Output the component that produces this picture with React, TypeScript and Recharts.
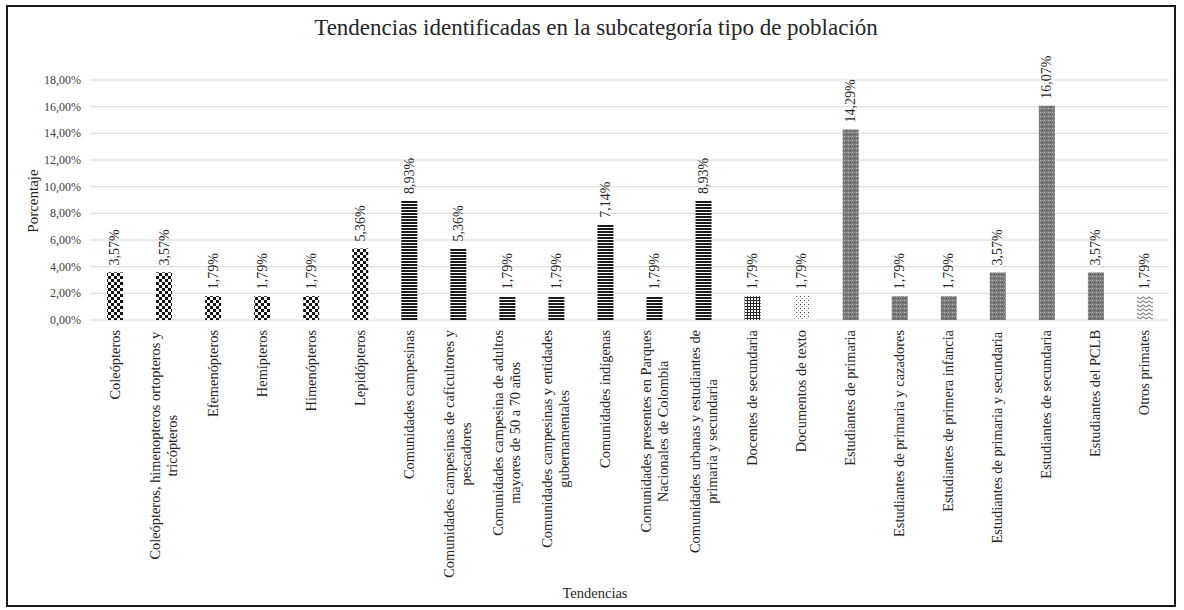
import { Bar, BarChart, CartesianGrid, Cell, LabelList, XAxis, YAxis } from "recharts";

const categories = [
  "Coleópteros",
  "Coleópteros, himenopteros  ortopteros y\ntricópteros",
  "Efemenópteros",
  "Hemípteros",
  "Himenópteros",
  "Lepidópteros",
  "Comunidades campesinas",
  "Comunidades campesinas de caficultores y\npescadores",
  "Comunidades campesina de adultos\nmayores de 50 a 70 años",
  "Comunidades campesinas y entidades\ngubernamentales",
  "Comunidades indígenas",
  "Comunidades presentes en Parques\nNacionales de Colombia",
  "Comunidades urbanas y estudiantes de\nprimaria y secundaria",
  "Docentes de secundaria",
  "Documentos de texto",
  "Estudiantes de primaria",
  "Estudiantes de primaria y cazadores",
  "Estudiantes de primera infancia",
  "Estudiantes de  primaria y secundaria",
  "Estudiantes de secundaria",
  "Estudiantes del PCLB",
  "Otros primates",
];

const percentages = [
  3.57, 3.57, 1.79, 1.79, 1.79, 5.36, 8.93, 5.36, 1.79, 1.79, 7.14, 1.79, 8.93,
  1.79, 1.79, 14.29, 1.79, 1.79, 3.57, 16.07, 3.57, 1.79,
];

const yTicks = [0, 2, 4, 6, 8, 10, 12, 14, 16, 18];

const data = categories.map((name, i) => ({ name, value: percentages[i] }));

const FONT = "'Liberation Serif', 'Times New Roman', serif";
const TEXT = "#262626";
const TICK_SIZE = 14.4;

// which fill pattern each bar group uses
function patternFor(i: number) {
  if (i <= 5) return "url(#pat-check)";
  if (i <= 12) return "url(#pat-stripe)";
  if (i === 13) return "url(#pat-grid)";
  if (i === 14) return "url(#pat-dots)";
  if (i <= 20) return "url(#pat-gray)";
  return "url(#pat-wave)";
}

const pct = (v: number) => `${v.toFixed(2).replace(".", ",")}%`;

let measureCtx: CanvasRenderingContext2D | null = null;
function textWidth(s: string) {
  if (!measureCtx) measureCtx = document.createElement("canvas").getContext("2d");
  if (!measureCtx) return s.length * 6.5;
  measureCtx.font = `${TICK_SIZE}px ${FONT}`;
  return measureCtx.measureText(s).width;
}

function CategoryTick({ x, y, payload }: any) {
  const lines = String(payload.value).split("\n");
  const w = Math.max(...lines.map(textWidth));
  return (
    <g transform={`translate(${x},${Number(y) + 2}) rotate(-90)`}>
      {lines.map((line, i) => (
        <text
          key={i}
          x={-w / 2}
          y={(i - (lines.length - 1) / 2) * 17}
          textAnchor="middle"
          dominantBaseline="central"
          fontSize={TICK_SIZE}
          fontFamily={FONT}
          fill={TEXT}
        >
          {line}
        </text>
      ))}
    </g>
  );
}

function PercentTick({ y, payload }: any) {
  return (
    <text
      x={81}
      y={y}
      textAnchor="end"
      dominantBaseline="central"
      fontSize={12}
      fontFamily={FONT}
      fill="#404040"
    >
      {pct(Number(payload.value))}
    </text>
  );
}

function ValueLabel({ x, y, width, value }: any) {
  const cx = Number(x) + Number(width) / 2;
  const ty = Number(y) - 7;
  return (
    <text
      x={cx}
      y={ty}
      transform={`rotate(-90, ${cx}, ${ty})`}
      textAnchor="start"
      dominantBaseline="central"
      fontSize={14}
      fontFamily={FONT}
      fill={TEXT}
    >
      {pct(Number(value))}
    </text>
  );
}

export default function App() {
  return (
    <div style={{ position: "relative", width: 1184, height: 610, background: "#fff", fontFamily: FONT }}>
      <style>{"body{margin:0}"}</style>
      <svg width={0} height={0} style={{ position: "absolute" }}>
        <defs>
          <pattern id="pat-check" width={6} height={6} patternUnits="userSpaceOnUse">
            <rect width={6} height={6} fill="#fff" />
            <rect width={3} height={3} fill="#111" />
            <rect x={3} y={3} width={3} height={3} fill="#111" />
          </pattern>
          <pattern id="pat-stripe" width={3} height={3} patternUnits="userSpaceOnUse">
            <rect width={3} height={3} fill="#fff" />
            <rect width={3} height={2} fill="#1a1a1a" />
          </pattern>
          <pattern id="pat-grid" width={3} height={3} patternUnits="userSpaceOnUse">
            <rect width={3} height={3} fill="#222" />
            <rect x={1} y={1} width={2} height={2} fill="#fff" />
          </pattern>
          <pattern id="pat-dots" width={4} height={4} patternUnits="userSpaceOnUse">
            <rect width={4} height={4} fill="#fff" />
            <rect width={1} height={1} fill="#444" />
            <rect x={2} y={2} width={1} height={1} fill="#999" />
          </pattern>
          <pattern id="pat-gray" width={4} height={4} patternUnits="userSpaceOnUse">
            <rect width={4} height={4} fill="#7a7a7a" />
            <rect width={1} height={1} fill="#bdbdbd" />
            <rect x={2} y={2} width={1} height={1} fill="#505050" />
            <rect x={2} y={0} width={1} height={1} fill="#a0a0a0" />
          </pattern>
          <pattern id="pat-wave" width={6} height={4} patternUnits="userSpaceOnUse">
            <rect width={6} height={4} fill="#fff" />
            <path d="M0 3 L3 1 L6 3" stroke="#8a8a8a" strokeWidth={1.2} fill="none" />
          </pattern>
        </defs>
      </svg>
      <div
        style={{
          position: "absolute",
          left: 6,
          top: 5,
          width: 1170,
          height: 602,
          boxSizing: "border-box",
          border: "2px solid #1a1a1a",
        }}
      />
      <div
        style={{
          position: "absolute",
          top: 15,
          left: 0,
          width: 1192,
          textAlign: "center",
          fontSize: 23,
          lineHeight: "26px",
          color: TEXT,
        }}
      >
        Tendencias identificadas en la subcategoría tipo de población
      </div>
      <div
        style={{
          position: "absolute",
          left: 33,
          top: 201,
          transform: "translate(-50%, -50%) rotate(-90deg)",
          whiteSpace: "nowrap",
          fontSize: 15,
          color: TEXT,
        }}
      >
        Porcentaje
      </div>
      <div
        style={{
          position: "absolute",
          left: 595,
          top: 593,
          transform: "translate(-50%, -50%)",
          whiteSpace: "nowrap",
          fontSize: 14.5,
          color: TEXT,
        }}
      >
        Tendencias
      </div>
      <BarChart
        width={1184}
        height={610}
        data={data}
        margin={{ top: 80, right: 15, bottom: 0, left: 0 }}
        style={{ position: "absolute", left: 0, top: 0 }}
      >
        <CartesianGrid stroke="#d9d9d9" vertical={false} />
        <XAxis
          dataKey="name"
          interval={0}
          height={290}
          axisLine={false}
          tickLine={false}
          tick={<CategoryTick />}
        />
        <YAxis
          width={90}
          domain={[0, 18]}
          ticks={yTicks}
          axisLine={false}
          tickLine={false}
          tick={<PercentTick />}
        />
        <Bar dataKey="value" barSize={16} isAnimationActive={false}>
          {data.map((_, i) => (
            <Cell key={i} fill={patternFor(i)} />
          ))}
          <LabelList dataKey="value" content={<ValueLabel />} />
        </Bar>
      </BarChart>
    </div>
  );
}
